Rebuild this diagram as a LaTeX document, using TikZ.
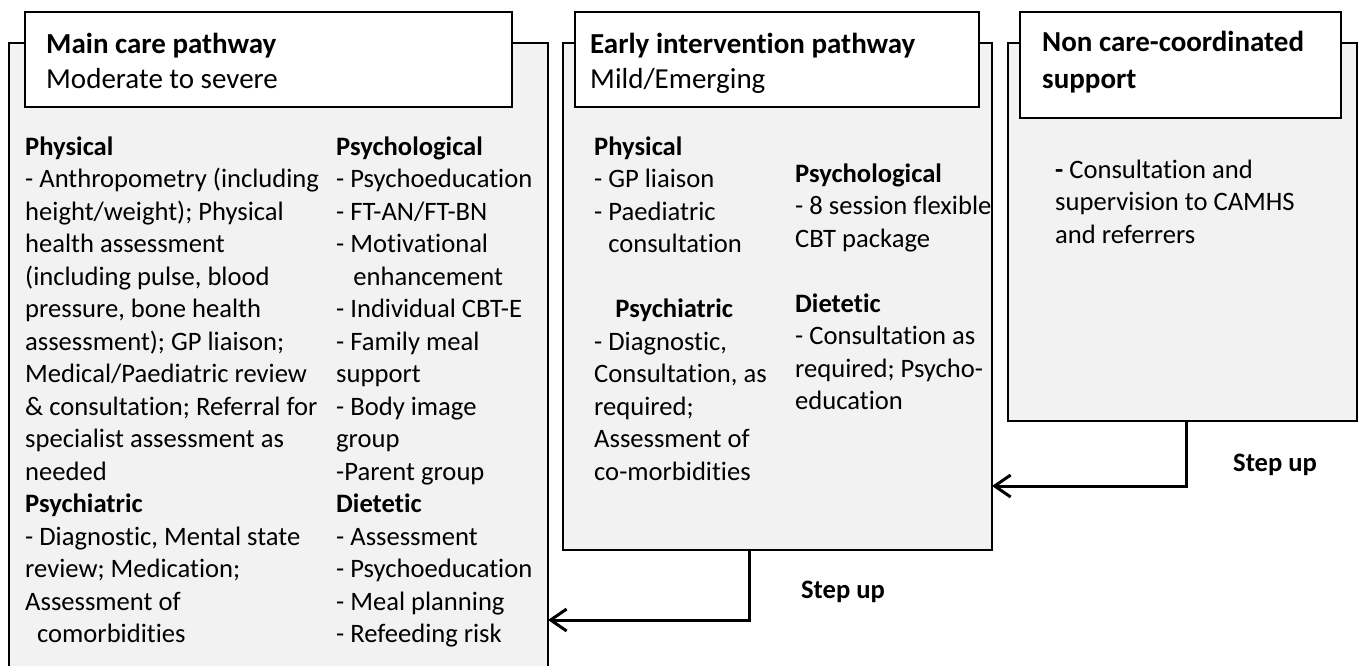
\documentclass[tikz,border=0pt]{standalone}
\usepackage{fontspec}
\setmainfont{Carlito}[Ligatures=NoCommon]
\usetikzlibrary{arrows.meta}
\definecolor{panelgray}{HTML}{F2F2F2}
\newcommand\bodyfont{\fontsize{26.6}{32.5}\selectfont}
\newcommand\headfont{\fontsize{29}{35.4}\selectfont}
\tikzset{
  panel/.style={draw, line width=2pt, fill=panelgray, inner sep=0pt, outer sep=0pt, anchor=north west},
  headbox/.style={draw, line width=2pt, fill=white, inner sep=0pt, outer sep=0pt, anchor=north west},
  headtext/.style={font=\headfont, align=left, inner sep=0pt, anchor=north west},
  bodytext/.style={font=\bodyfont, align=left, inner sep=0pt, anchor=north west},
  steparrow/.style={line width=3pt, -{Straight Barb[length=16pt, width=22pt, line width=3pt]}},
  steplabel/.style={font=\bodyfont\bfseries, inner sep=0pt}
}
\begin{document}
\begin{tikzpicture}[x=1pt, y=-1pt]
    \clip (0,0) rectangle (1362,666);
    % panels
    \node[panel, minimum width=539pt, minimum height=660pt] (main) at (9,43) {};
    \node[panel, minimum width=429pt, minimum height=507pt] (early) at (563,43) {};
    \node[panel, minimum width=349pt, minimum height=378pt] (noncc) at (1008,43) {};
    % headers
    \node[headbox, minimum width=487pt, minimum height=95pt] (mainhead) at (25,12) {};
    \node[headbox, minimum width=404pt, minimum height=95pt] (earlyhead) at (575,12) {};
    \node[headbox, minimum width=321pt, minimum height=106pt] (noncchead) at (1020,12) {};
    \node[headtext] (maintitle) at (46,28.2) {\strut\textbf{Main care pathway}\\Moderate to severe};
    \node[headtext] (earlytitle) at (590,28.2) {\strut\textbf{Early intervention pathway}\\Mild/Emerging};
    \node[headtext] (nonccstitle) at (1042,26.2) {\strut\textbf{Non care-coordinated}\\[2pt]\textbf{support}};
    %
    % main care pathway
    \node[bodytext] (mainleft) at (25,132.25) {\strut\textbf{Physical}\\
        - Anthropometry (including\\
        height/weight); Physical\\
        health assessment\\
        (including pulse, blood\\
        pressure, bone health\\
        assessment); GP liaison;\\
        Medical/Paediatric review\\
        \& consultation; Referral for\\
        specialist assessment as\\
        needed\\
        \textbf{Psychiatric}\\
        - Diagnostic, Mental state\\
        review; Medication;\\
        Assessment of\\
        \hspace*{0.45em}comorbidities};
    \node[bodytext] (mainright) at (336,132.25) {\strut\textbf{Psychological}\\
        - Psychoeducation\\
        - FT-AN/FT-BN\\
        - Motivational\\
        \hspace*{0.65em}enhancement\\
        - Individual CBT-E\\
        - Family meal\\
        support\\
        - Body image\\
        group\\
        -Parent group\\
        \textbf{Dietetic}\\
        - Assessment\\
        - Psychoeducation\\
        - Meal planning\\
        - Refeeding risk};
    %
    % early intervention pathway
    \node[bodytext] (earlyleft) at (594,132.25) {\strut\textbf{Physical}\\
        - GP liaison\\
        - Paediatric\\
        \hspace*{0.53em}consultation\\[32.5pt]
        \hspace*{0.8em}\textbf{Psychiatric}\\
        - Diagnostic,\\
        Consultation, as\\
        required;\\
        Assessment of\\
        co-morbidities};
    \node[bodytext] (earlyright) at (795,159.25) {\strut\textbf{Psychological}\\
        - 8 session flexible\\
        CBT package\\[32.5pt]
        \textbf{Dietetic}\\
        - Consultation as\\
        required; Psycho-\\
        education};
    %
    % non care-coordinated support
    \node[bodytext] (noncctext) at (1055,155.25) {\strut\textbf{-} Consultation and\\
        supervision to CAMHS\\
        and referrers};
    %
    % step up connectors
    \coordinate (bendA) at (749,620);
    \coordinate (bendB) at (1186,486);
    \draw[steparrow] (bendA |- early.south) -- (bendA) -- (bendA -| main.east);
    \draw[steparrow] (bendB |- noncc.south) -- (bendB) -- (bendB -| early.east);
    \node[steplabel] (upA) at (843,592) {Step up};
    \node[steplabel] (upB) at (1275,465) {Step up};
\end{tikzpicture}
\end{document}
